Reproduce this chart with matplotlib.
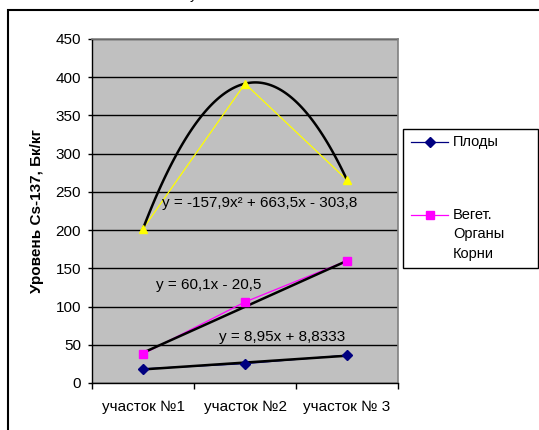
import numpy as np
import matplotlib
matplotlib.use("Agg")
import matplotlib.pyplot as plt
from matplotlib.lines import Line2D
from matplotlib.patches import Rectangle

plt.rcParams['font.family'] = ['Liberation Sans', 'DejaVu Sans']

# Данные по участкам
sites = ["участок №1", "участок №2", "участок № 3"]
plody = [18.5, 25.3, 36.4]
veget = [38.0, 106.0, 160.0]
korni = [201.8, 391.6, 265.6]

# Коэффициенты линий тренда
fit_plody = [8.95, 8.8333]
fit_veget = [60.1, -20.5]
fit_korni = [-157.9, 663.5, -303.8]

W, H = 539, 430
fig = plt.figure(figsize=(W / 100, H / 100), dpi=100)

def fx(px):
    return px / W

def fy(py):
    return 1 - py / H

ax = fig.add_axes([fx(92), fy(383), (398 - 92) / W, (383 - 39) / H])
ax.set_facecolor('#C0C0C0')

x = np.arange(1, len(sites) + 1)

# ряды данных
ax.plot(x, plody, color='#000080', lw=0.9, zorder=3)
ax.plot(x, veget, color='#FF00FF', lw=0.9, zorder=3)
ax.plot(x, korni, color='#FFFF00', lw=0.9, zorder=3)

# линии тренда
xt = np.linspace(1, 3, 100)
ax.plot(xt, np.polyval(fit_plody, xt), color='black', lw=1.8, zorder=4)
ax.plot(xt, np.polyval(fit_veget, xt), color='black', lw=1.8, zorder=4)
ax.plot(xt, np.polyval(fit_korni, xt), color='black', lw=1.8, zorder=4)

# маркеры поверх
ax.plot(x, plody, ls='none', marker='D', ms=5, color='#000080', zorder=5)
ax.plot(x, veget, ls='none', marker='s', ms=6, color='#FF00FF', zorder=5)
ax.plot(x, korni, ls='none', marker='^', ms=6, color='#FFFF00', zorder=5)

# уравнения трендов
eq_kw = dict(fontsize=11, ha='left', va='center', zorder=6)
ax.text(1.183, 235.5, "y = -157,9x² + 663,5x - 303,8", **eq_kw)
ax.text(1.127, 128.2, "y = 60,1x - 20,5", **eq_kw)
ax.text(1.745, 60.6, "y = 8,95x + 8,8333", **eq_kw)

ax.set_xlim(0.5, 3.5)
ax.set_ylim(0, 450)
ax.set_yticks(np.arange(0, 451, 50))
ax.set_xticks(x)
ax.set_xticklabels(sites)
ax.set_xticks([0.5, 1.5, 2.5, 3.5], minor=True)
ax.tick_params(axis='x', which='major', length=0, pad=12, labelsize=11)
ax.tick_params(axis='x', which='minor', length=4, width=1, direction='out')
ax.tick_params(axis='y', length=3, width=1, direction='out', pad=5, labelsize=11)

ax.set_axisbelow(True)
ax.grid(axis='y', color='black', lw=1.0)
for side in ['top', 'right']:
    ax.spines[side].set_color('#808080')
    ax.spines[side].set_linewidth(1.2)
for side in ['left', 'bottom']:
    ax.spines[side].set_color('black')
    ax.spines[side].set_linewidth(1.0)

ax.set_ylabel("Уровень Cs-137, Бк/кг", fontsize=11, fontweight='bold', labelpad=8)

# легенда
fig.patches.append(Rectangle((fx(403), fy(268)), fx(538) - fx(403), fy(129) - fy(268),
                             transform=fig.transFigure, facecolor='white',
                             edgecolor='black', lw=1.0))
fig.lines.append(Line2D([fx(411), fx(448)], [fy(141.7)] * 2, transform=fig.transFigure,
                        color='#000080', lw=0.9))
fig.lines.append(Line2D([fx(429.5)], [fy(141.7)], transform=fig.transFigure,
                        ls='none', marker='D', ms=5, color='#000080'))
fig.lines.append(Line2D([fx(411), fx(448)], [fy(215)] * 2, transform=fig.transFigure,
                        color='#FF00FF', lw=0.9))
fig.lines.append(Line2D([fx(429.5)], [fy(215)], transform=fig.transFigure,
                        ls='none', marker='s', ms=6, color='#FF00FF'))
leg_kw = dict(fontsize=10.5, ha='left', va='center')
fig.text(fx(453), fy(141.7), "Плоды", **leg_kw)
fig.text(fx(453), fy(215), "Вегет.", **leg_kw)
fig.text(fx(453), fy(234.5), "Органы", **leg_kw)
fig.text(fx(453), fy(254), "Корни", **leg_kw)

# рамка диаграммы
fig.patches.append(Rectangle((fx(7.5), -0.1), 1.2, fy(10) + 0.1,
                             transform=fig.transFigure, fill=False,
                             edgecolor='black', lw=1.5))
fig.text(fx(193), fy(-1), "у", fontsize=10, ha='center', va='baseline')

fig.savefig("out.png", dpi=100)
